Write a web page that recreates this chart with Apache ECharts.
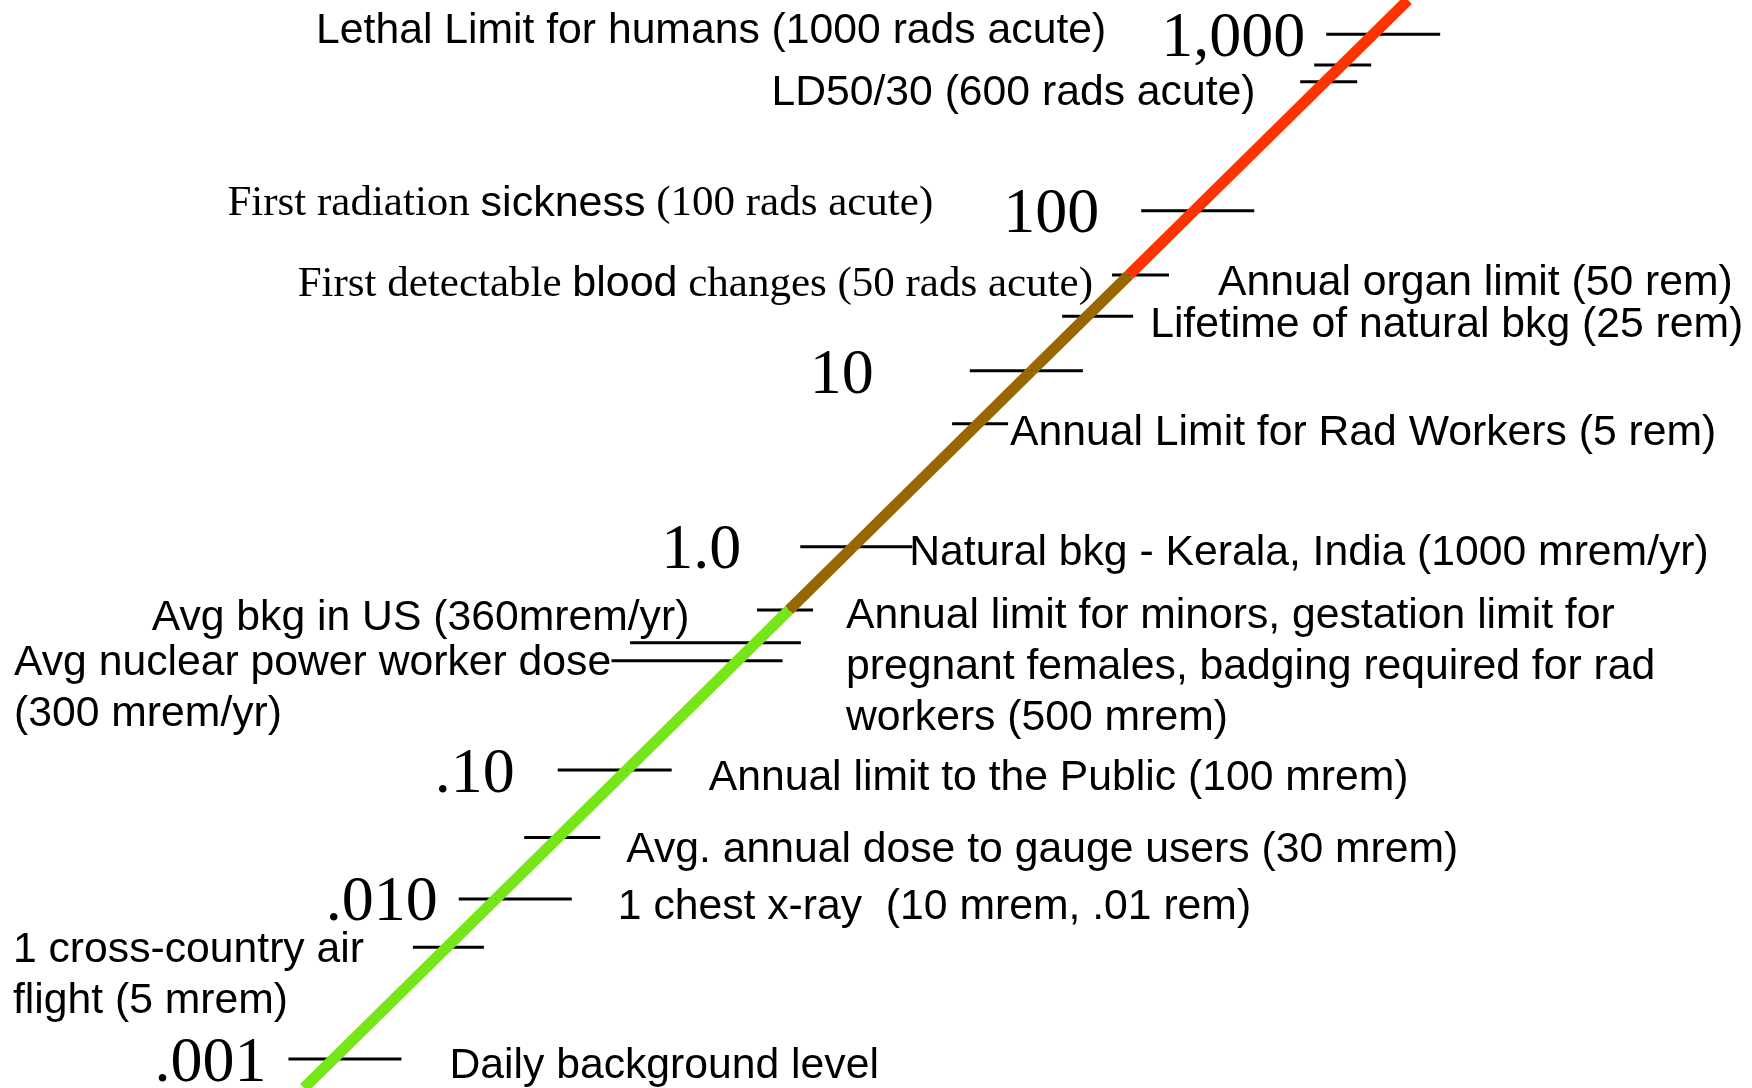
<!DOCTYPE html>
<html>
<head>
<meta charset="utf-8">
<title>Radiation dose scale</title>
<script src="https://cdn.jsdelivr.net/npm/echarts@6/dist/echarts.min.js"></script>
<style>
  html, body { margin: 0; padding: 0; background: #fff; }
  #main { width: 1752px; height: 1088px; }
</style>
</head>
<body>
<div id="main"></div>
<script>
// dose (rem) of every tick on the diagonal
var tickValues = [1000, 600, 100, 50, 25, 10, 5, 1, 0.5, 0.36, 0.3, 0.1, 0.03, 0.01, 0.005, 0.001];

// the big numbers of the scale
var scaleValues = [1000, 100, 10, 1, 0.1, 0.01, 0.001];
var scaleLabels = ['1,000', '100', '10', '1.0', '.10', '.010', '.001'];

// notes, each hung on the tick of its dose
var noteValues = [1000, 600, 100, 50, 50, 25, 5, 1, 0.5, 0.36, 0.3, 0.1, 0.03, 0.01, 0.005, 0.001];
var noteTexts = [
  'Lethal Limit for humans (1000 rads acute)',
  'LD50/30 (600 rads acute)',
  'First radiation sickness (100 rads acute)',
  'First detectable blood changes (50 rads acute)',
  'Annual organ limit (50 rem)',
  'Lifetime of natural bkg (25 rem)',
  'Annual Limit for Rad Workers (5 rem)',
  'Natural bkg - Kerala, India (1000 mrem/yr)',
  'Annual limit for minors, gestation limit for\npregnant females, badging required for rad\nworkers (500 mrem)',
  'Avg bkg in US (360mrem/yr)',
  'Avg nuclear power worker dose\n(300 mrem/yr)',
  'Annual limit to the Public (100 mrem)',
  'Avg. annual dose to gauge users (30 mrem)',
  '1 chest x-ray  (10 mrem, .01 rem)',
  '1 cross-country air\nflight (5 mrem)',
  'Daily background level'
];

// colour zones of the diagonal (rem)
var zoneBreaks = [0.5, 50];
var zoneColors = ['#77e619', '#996600', '#ff3300'];

// ---- layout only below ----
var H = 1088;
// the slide is not drawn to scale: the decades and the colour breaks
// each get their own pixel row, log scale in between
var bandEdges = scaleValues.concat(zoneBreaks).sort(function (a, b) { return b - a; });
var edgeRows = [34.3, 210.7, 275, 370.7, 546.7, 610, 770, 899, 1059];
var lineTopX = 1408, lineSlope = 1.0147;
function lineX(y) { return lineTopX - lineSlope * y; }

// [dy, x1, x2] of each tick stroke, relative to where the diagonal crosses it
var tickMarks = [
  [[0, -47, 67]],
  [[-8.35, -19.3, 37.7], [8.35, -33.3, 23.7]],
  [[0, -53, 60]],
  [[0, -17, 40]],
  [[0, -25, 46]],
  [[0, -62, 51]],
  [[0, -26, 30]],
  [[0, -53, 59]],
  [[0, -32, 24]],
  [[0, -126, 45]],
  [[0, -126, 45]],
  [[0, -69, 45]],
  [[0, -34, 42]],
  [[0, -37, 76]],
  [[0, -34, 37]],
  [[0, -45, 68]]
];
var scaleLayout = [[-68, 4.9], [-95, 4.5], [-158, 5.5], [-112, 4.5], [-112, 5], [-58, 4.5], [-67, 5.5]];
var noteLayout = [
  { align: 'right', dx: -267, dy: -3 },
  { align: 'right', dx: -78, dy: 20 },
  { align: 'right', dx: -261, dy: -6.5, sans: 'sickness' },
  { align: 'right', dx: -36, dy: 9.5, sans: 'blood' },
  { align: 'left', dx: 89, dy: 8 },
  { align: 'left', dx: 63, dy: 9 },
  { align: 'left', dx: 32, dy: 10 },
  { align: 'left', dx: 56, dy: 7 },
  { align: 'left', dx: 57, dy: 6 },
  { align: 'right', dx: -66.5, dy: -24 },
  { align: 'left', dx: -723.5, dy: 2 },
  { align: 'left', dx: 82, dy: 8 },
  { align: 'left', dx: 68, dy: 13 },
  { align: 'left', dx: 122, dy: 8.5 },
  { align: 'left', dx: -434, dy: 3 },
  { align: 'left', dx: 116, dy: 7.5 }
];

var SANS = "'Liberation Sans', Arial, sans-serif";
var SERIF = "'Liberation Serif', 'Times New Roman', serif";
var SANS_SIZE = 42.7;

// one grid per band, the outer ones stretched to the page edges
var bands = [];
for (var i = 0; i < bandEdges.length - 1; i++) {
  var hi = bandEdges[i], lo = bandEdges[i + 1];
  var yTop = edgeRows[i], yBot = edgeRows[i + 1];
  var pxPerDec = (yBot - yTop) / (Math.log10(hi) - Math.log10(lo));
  if (i === 0) { hi = Math.pow(10, Math.log10(hi) + yTop / pxPerDec); yTop = 0; }
  if (i === bandEdges.length - 2) { lo = Math.pow(10, Math.log10(lo) - (H - yBot) / pxPerDec); yBot = H; }
  bands.push({ lo: lo, hi: hi, yTop: yTop, yBot: yBot });
}

function bandOf(v) {
  for (var k = 0; k < bands.length; k++) {
    if (v >= bands[k].lo * 0.9999 && v <= bands[k].hi * 1.0001) return k;
  }
  return -1;
}

function renderTick(params, api) {
  var i = api.value(2);
  var v = tickValues[i];
  var p = api.coord([v, v]);
  var kids = [];

  tickMarks[i].forEach(function (m) {
    kids.push({
      type: 'line',
      shape: { x1: p[0] + m[1], y1: p[1] + m[0], x2: p[0] + m[2], y2: p[1] + m[0] },
      style: { stroke: '#000', lineWidth: 3 }
    });
  });

  scaleValues.forEach(function (s, j) {
    if (s !== v) return;
    kids.push({
      type: 'text',
      x: p[0] + scaleLayout[j][0],
      y: p[1] + scaleLayout[j][1],
      style: { text: scaleLabels[j], fontFamily: SERIF, fontSize: 64, fill: '#000', align: 'right', verticalAlign: 'middle' }
    });
  });

  noteValues.forEach(function (n, j) {
    if (n !== v) return;
    var L = noteLayout[j];
    var txt = noteTexts[j];
    var st = { fill: '#000', align: L.align };
    var y = p[1] + L.dy;
    if (L.sans) {
      // serif sentence with one word set in the sans face
      var at = txt.indexOf(L.sans);
      st.text = '{s|' + txt.slice(0, at) + '}{a|' + L.sans + '}{s|' + txt.slice(at + L.sans.length) + '}';
      st.rich = {
        s: { fontFamily: SERIF, fontSize: 43 },
        a: { fontFamily: SANS, fontSize: 43 }
      };
      st.verticalAlign = 'middle';
    } else if (txt.indexOf('\n') >= 0) {
      st.text = txt;
      st.fontFamily = SANS;
      st.fontSize = SANS_SIZE;
      st.lineHeight = 51;
      st.verticalAlign = 'top';
      y -= 25.5;
    } else {
      st.text = txt;
      st.fontFamily = SANS;
      st.fontSize = SANS_SIZE;
      st.verticalAlign = 'middle';
    }
    kids.push({ type: 'text', x: p[0] + L.dx, y: y, style: st });
  });

  return { type: 'group', children: kids };
}

var grids = [], xAxes = [], yAxes = [], series = [];
bands.forEach(function (b, k) {
  var h = b.yBot - b.yTop;
  grids.push({ left: lineX(b.yBot), top: b.yTop, width: h * lineSlope, height: h });
  xAxes.push({ type: 'log', gridIndex: k, min: b.lo, max: b.hi, show: false });
  yAxes.push({ type: 'log', gridIndex: k, min: b.lo, max: b.hi, show: false });

  // diagonal piece, coloured by its zone
  var mid = Math.sqrt(b.lo * b.hi);
  var zone = zoneBreaks.filter(function (z) { return z <= mid; }).length;
  series.push({
    type: 'line',
    xAxisIndex: k,
    yAxisIndex: k,
    data: [[b.lo, b.lo], [b.hi, b.hi]],
    symbol: 'none',
    clip: false,
    silent: true,
    z: 5,
    lineStyle: { color: zoneColors[zone], width: 11, cap: 'butt' }
  });

  var items = [];
  tickValues.forEach(function (v, i) {
    if (bandOf(v) === k) items.push([v, v, i]);
  });
  series.push({
    type: 'custom',
    xAxisIndex: k,
    yAxisIndex: k,
    data: items,
    renderItem: renderTick,
    silent: true,
    z: 2
  });
});

var myChart = echarts.init(document.getElementById('main'));
myChart.setOption({
  backgroundColor: '#fff',
  animation: false,
  grid: grids,
  xAxis: xAxes,
  yAxis: yAxes,
  series: series
});
</script>
</body>
</html>
